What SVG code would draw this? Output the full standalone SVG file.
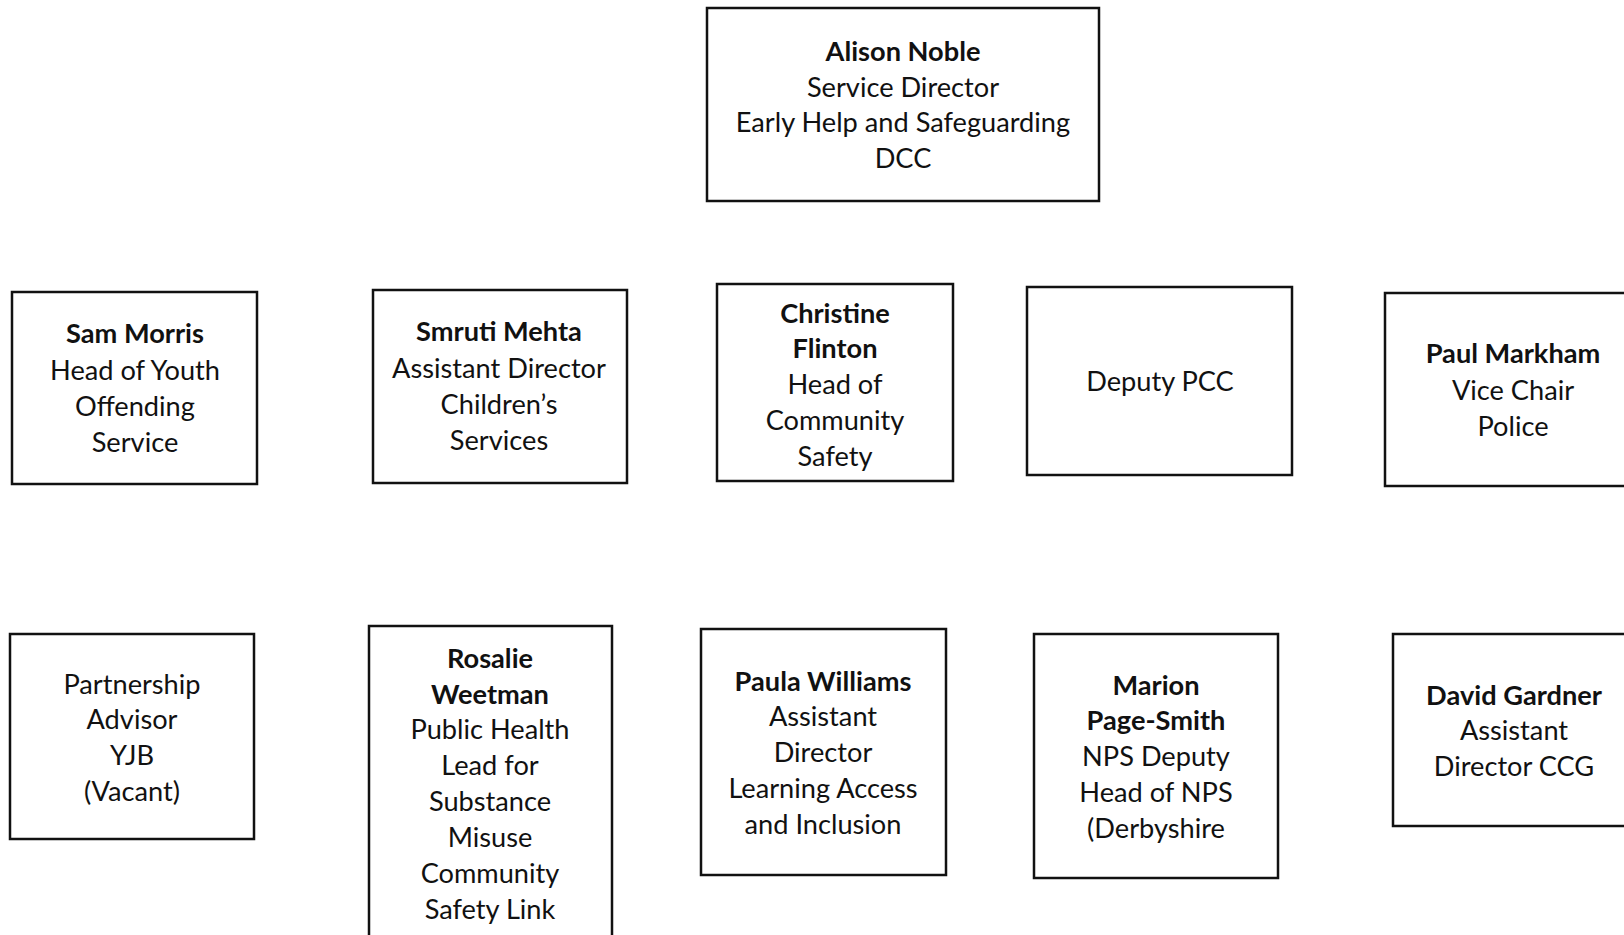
<svg xmlns="http://www.w3.org/2000/svg" width="1624" height="935" viewBox="0 0 1624 935">
<style>
rect.box{fill:#fff;stroke:#111;stroke-width:2.5}
text{font-family:Lato,"Open Sans","Liberation Sans",sans-serif;font-size:27.2px;fill:#111;text-anchor:middle}
.b{font-weight:bold}
</style>
<rect width="1624" height="935" fill="#fff"/>
<g id="connectors"></g>
<g id="alison">
<rect class="box" x="707" y="8" width="392" height="193"/>
<text x="903" y="61" class="b">Alison Noble</text>
<text x="903" y="97">Service Director</text>
<text x="903" y="132">Early Help and Safeguarding</text>
<text x="903" y="168">DCC</text>
</g>
<g id="sam">
<rect class="box" x="12" y="292" width="245" height="192"/>
<text x="135" y="343" class="b">Sam Morris</text>
<text x="135" y="380">Head of Youth</text>
<text x="135" y="416">Offending</text>
<text x="135" y="452">Service</text>
</g>
<g id="smruti">
<rect class="box" x="373" y="290" width="254" height="193"/>
<text x="499" y="341" class="b">Smruti Mehta</text>
<text x="499" y="378">Assistant Director</text>
<text x="499" y="414">Children’s</text>
<text x="499" y="450">Services</text>
</g>
<g id="christine">
<rect class="box" x="717" y="284" width="236" height="197"/>
<text x="835" y="323" class="b">Christine</text>
<text x="835" y="358" class="b">Flinton</text>
<text x="835" y="394">Head of</text>
<text x="835" y="430">Community</text>
<text x="835" y="466">Safety</text>
</g>
<g id="deputypcc">
<rect class="box" x="1027" y="287" width="265" height="188"/>
<text x="1160" y="391">Deputy PCC</text>
</g>
<g id="paul">
<rect class="box" x="1385" y="293" width="250" height="193"/>
<text x="1513" y="363" class="b">Paul Markham</text>
<text x="1513" y="400">Vice Chair</text>
<text x="1513" y="436">Police</text>
</g>
<g id="partnership">
<rect class="box" x="10" y="634" width="244" height="205"/>
<text x="132" y="694">Partnership</text>
<text x="132" y="729">Advisor</text>
<text x="132" y="765">YJB</text>
<text x="132" y="801">(Vacant)</text>
</g>
<g id="rosalie">
<rect class="box" x="369" y="626" width="243" height="330"/>
<text x="490" y="668" class="b">Rosalie</text>
<text x="490" y="704" class="b">Weetman</text>
<text x="490" y="739">Public Health</text>
<text x="490" y="775">Lead for</text>
<text x="490" y="811">Substance</text>
<text x="490" y="847">Misuse</text>
<text x="490" y="883">Community</text>
<text x="490" y="919">Safety Link</text>
</g>
<g id="paula">
<rect class="box" x="701" y="629" width="245" height="246"/>
<text x="823" y="691" class="b">Paula Williams</text>
<text x="823" y="726">Assistant</text>
<text x="823" y="762">Director</text>
<text x="823" y="798">Learning Access</text>
<text x="823" y="834">and Inclusion</text>
</g>
<g id="marion">
<rect class="box" x="1034" y="634" width="244" height="244"/>
<text x="1156" y="695" class="b">Marion</text>
<text x="1156" y="730" class="b">Page-Smith</text>
<text x="1156" y="766">NPS Deputy</text>
<text x="1156" y="802">Head of NPS</text>
<text x="1156" y="838">(Derbyshire</text>
</g>
<g id="david">
<rect class="box" x="1393" y="634" width="250" height="192"/>
<text x="1514" y="705" class="b">David Gardner</text>
<text x="1514" y="740">Assistant</text>
<text x="1514" y="776">Director CCG</text>
</g>
</svg>
